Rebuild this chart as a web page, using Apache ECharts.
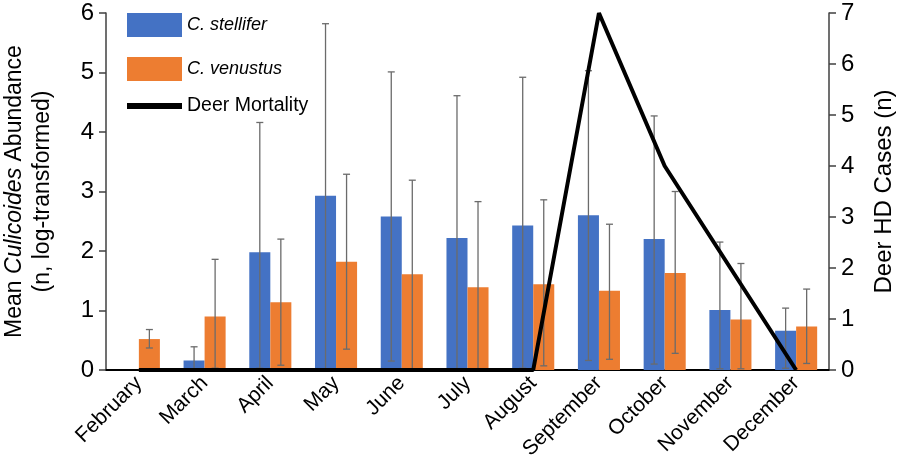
<!DOCTYPE html>
<html><head><meta charset="utf-8">
<script src="https://cdn.jsdelivr.net/npm/echarts@6/dist/echarts.min.js"></script>
<style>html,body{margin:0;padding:0;background:#fff}#c{width:898px;height:469px}</style>
</head><body><div id="c"></div>
<script>
const months = ['February','March','April','May','June','July','August','September','October','November','December'];
const stellifer = [0, 0.16, 1.98, 2.93, 2.58, 2.22, 2.43, 2.60, 2.20, 1.01, 0.66];
const stelliferLow = [null, 0.0, 0.03, 0.02, 0.15, 0.02, 0.03, 0.16, 0.10, 0.02, 0.03];
const stelliferHigh = [null, 0.39, 4.16, 5.82, 5.01, 4.61, 4.92, 5.03, 4.27, 2.15, 1.04];
const venustus = [0.52, 0.90, 1.14, 1.82, 1.61, 1.39, 1.44, 1.33, 1.63, 0.85, 0.73];
const venustusLow = [0.37, 0.03, 0.08, 0.35, 0.02, 0.02, 0.07, 0.18, 0.28, 0.02, 0.11];
const venustusHigh = [0.68, 1.86, 2.20, 3.29, 3.19, 2.83, 2.86, 2.45, 3.00, 1.79, 1.36];
const deerMortality = [0, 0, 0, 0, 0, 0, 0, 7, 4, 2, 0];
const leftTicks = [0, 1, 2, 3, 4, 5, 6];
const rightTicks = [0, 1, 2, 3, 4, 5, 6, 7];

const FONT = 'Liberation Sans';
const chart = echarts.init(document.getElementById('c'));

function errSeries(name, low, high, sign) {
  return {
    type: 'custom', name: name, z: 5, silent: true,
    data: months.map((m, i) => [i, low[i], high[i]]),
    renderItem: function (params, api) {
      const lo = api.value(1), hi = api.value(2);
      if (lo === null || hi === null || isNaN(lo) || isNaN(hi)) return;
      const band = api.size([1, 0])[0];
      const off = sign * band * 0.16;
      const pLo = api.coord([api.value(0), lo]);
      const pHi = api.coord([api.value(0), hi]);
      const x = pLo[0] + off;
      const cap = 3.5;
      const st = { stroke: '#6b6b6b', lineWidth: 1.3 };
      return { type: 'group', children: [
        { type: 'line', shape: { x1: x, y1: pLo[1], x2: x, y2: pHi[1] }, style: st },
        { type: 'line', shape: { x1: x - cap, y1: pHi[1], x2: x + cap, y2: pHi[1] }, style: st },
        { type: 'line', shape: { x1: x - cap, y1: pLo[1], x2: x + cap, y2: pLo[1] }, style: st }
      ]};
    }
  };
}

chart.setOption({
  animation: false,
  textStyle: { fontFamily: FONT },
  grid: { left: 106, right: 69, top: 13, bottom: 99, containLabel: false, outerBoundsMode: 'none' },
  legend: [
    {
      data: [{ name: 'C. stellifer', icon: 'rect' }, { name: 'C. venustus', icon: 'rect' }],
      orient: 'vertical', left: 122, top: 8, itemWidth: 55, itemHeight: 24, itemGap: 20,
      textStyle: { fontFamily: FONT, fontSize: 18, fontStyle: 'italic', color: '#000' }
    },
    {
      data: [{ name: 'Deer Mortality', icon: 'rect' }],
      orient: 'vertical', left: 122, top: 91, itemWidth: 55, itemHeight: 6,
      textStyle: { fontFamily: FONT, fontSize: 19.5, color: '#000' }
    }
  ],
  xAxis: {
    type: 'category', data: months,
    axisLine: { lineStyle: { color: '#000', width: 2 } },
    axisTick: { show: false },
    axisLabel: { rotate: 45, fontSize: 21, color: '#000', fontFamily: FONT, margin: 10 }
  },
  yAxis: [
    {
      type: 'value', min: 0, max: 6, interval: 1,
      axisLine: { show: true, lineStyle: { color: '#404040', width: 1.5 } },
      axisTick: { show: true, length: 7, lineStyle: { color: '#404040', width: 1.5 } },
      splitLine: { show: false },
      axisLabel: { fontSize: 24, color: '#000', fontFamily: FONT, margin: 12,
        formatter: v => leftTicks.includes(v) ? String(v) : '' },
      name: '{a|Mean }{i|Culicoides}{a| Abundance}\n{a|(n, log-transformed)}',
      nameLocation: 'middle', nameGap: 49, nameRotate: 90,
      nameTextStyle: { lineHeight: 28, rich: {
        a: { fontSize: 23, fontFamily: FONT, color: '#000', lineHeight: 28 },
        i: { fontSize: 23, fontFamily: FONT, color: '#000', fontStyle: 'italic', lineHeight: 28 }
      } }
    },
    {
      type: 'value', min: 0, max: 7, interval: 1, position: 'right',
      axisLine: { show: true, lineStyle: { color: '#404040', width: 1.5 } },
      axisTick: { show: true, length: 7, lineStyle: { color: '#404040', width: 1.5 } },
      splitLine: { show: false },
      axisLabel: { fontSize: 24, color: '#000', fontFamily: FONT, margin: 12,
        formatter: v => rightTicks.includes(v) ? String(v) : '' },
      name: 'Deer HD Cases (n)', nameLocation: 'middle', nameGap: 43, nameRotate: 90,
      nameTextStyle: { fontSize: 24, fontFamily: FONT, color: '#000' }
    }
  ],
  series: [
    { name: 'C. stellifer', type: 'bar', data: stellifer, barGap: '0%', barCategoryGap: '36%',
      itemStyle: { color: '#4472C4' }, z: 2 },
    { name: 'C. venustus', type: 'bar', data: venustus, barGap: '0%', barCategoryGap: '36%',
      itemStyle: { color: '#ED7D31' }, z: 2 },
    errSeries('errS', stelliferLow, stelliferHigh, -1),
    errSeries('errV', venustusLow, venustusHigh, 1),
    { name: 'Deer Mortality', type: 'line', yAxisIndex: 1, data: deerMortality,
      showSymbol: false, symbol: 'none', z: 10,
      lineStyle: { color: '#000', width: 4 }, itemStyle: { color: '#000' } }
  ]
});
</script></body></html>
